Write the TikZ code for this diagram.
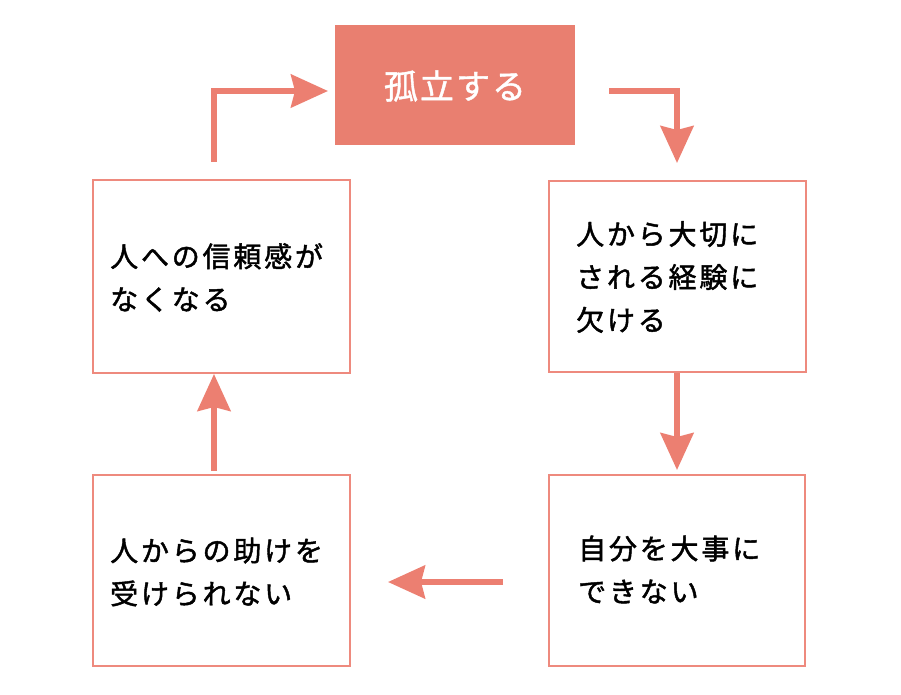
\documentclass[tikz,border=0pt]{standalone}
\usepackage{fontspec}
\setmainfont{Noto Sans CJK JP}
\newfontfamily\jpbody[LetterSpace=10, FakeBold=1.6]{Noto Sans CJK JP}
\newfontfamily\jptitle[LetterSpace=6, FakeBold=1.2]{Noto Sans CJK JP}
\usetikzlibrary{arrows.meta}
\definecolor{salmon}{HTML}{E97F70}
\definecolor{arrowc}{HTML}{EC7F71}
\definecolor{boxline}{HTML}{EE8A7E}
\tikzset{
  titlebox/.style={fill=salmon, draw=none, minimum width=240pt, minimum height=120pt, inner sep=0pt},
  framebox/.style={draw=boxline, line width=2.4pt, fill=white, inner sep=0pt},
  bodytext/.style={anchor=west, inner sep=0pt, align=left, font=\jpbody\fontsize{28}{43}\selectfont, text=black},
  flow/.style={draw=arrowc, line width=5.5pt, -{Stealth[length=37pt,width=33pt,inset=4pt]}}
}
\begin{document}
\begin{tikzpicture}[x=1pt,y=-1pt]
\useasboundingbox (0,0) rectangle (901,695);
% boxes
\node[titlebox] (iso) at (455,85) {};
\node[inner sep=0pt, text=white, font=\jptitle\fontsize{34}{38}\selectfont] (isotxt) at (455,86) {孤立する};
\node[framebox, minimum width=257pt, minimum height=193pt] (trust) at (221.5,276.5) {};
\node[framebox, minimum width=257pt, minimum height=191pt] (cared) at (677.5,276.5) {};
\node[framebox, minimum width=256pt, minimum height=191pt] (self) at (677,570.5) {};
\node[framebox, minimum width=257pt, minimum height=191pt] (help) at (221.5,570.5) {};
% texts
\node[bodytext] (trusttxt) at (110,277.5) {人への信頼感が\\なくなる};
\node[bodytext] (caredtxt) at (576,277) {人から大切に\\される経験に\\欠ける};
\node[bodytext] (selftxt) at (578,569.5) {自分を大事に\\できない};
\node[bodytext] (helptxt) at (110,572) {人からの助けを\\受けられない};
% arrow end points
\coordinate (a1s) at (214,162);
\coordinate (a1m) at (214,91);
\coordinate (a1e) at (328,91);
\coordinate (a2s) at (609,91);
\coordinate (a2m) at (677,91);
\coordinate (a2e) at (677,163);
\coordinate (a3s) at (677,373);
\coordinate (a3e) at (677,470);
\coordinate (a4s) at (503,582);
\coordinate (a4e) at (388,582);
\coordinate (a5s) at (214,471);
\coordinate (a5e) at (214,374);
% arrows
\draw[flow] (a1s) -- (a1m) -- (a1e);
\draw[flow] (a2s) -- (a2m) -- (a2e);
\draw[flow] (a3s) -- (a3e);
\draw[flow] (a4s) -- (a4e);
\draw[flow] (a5s) -- (a5e);
\end{tikzpicture}
\end{document}
